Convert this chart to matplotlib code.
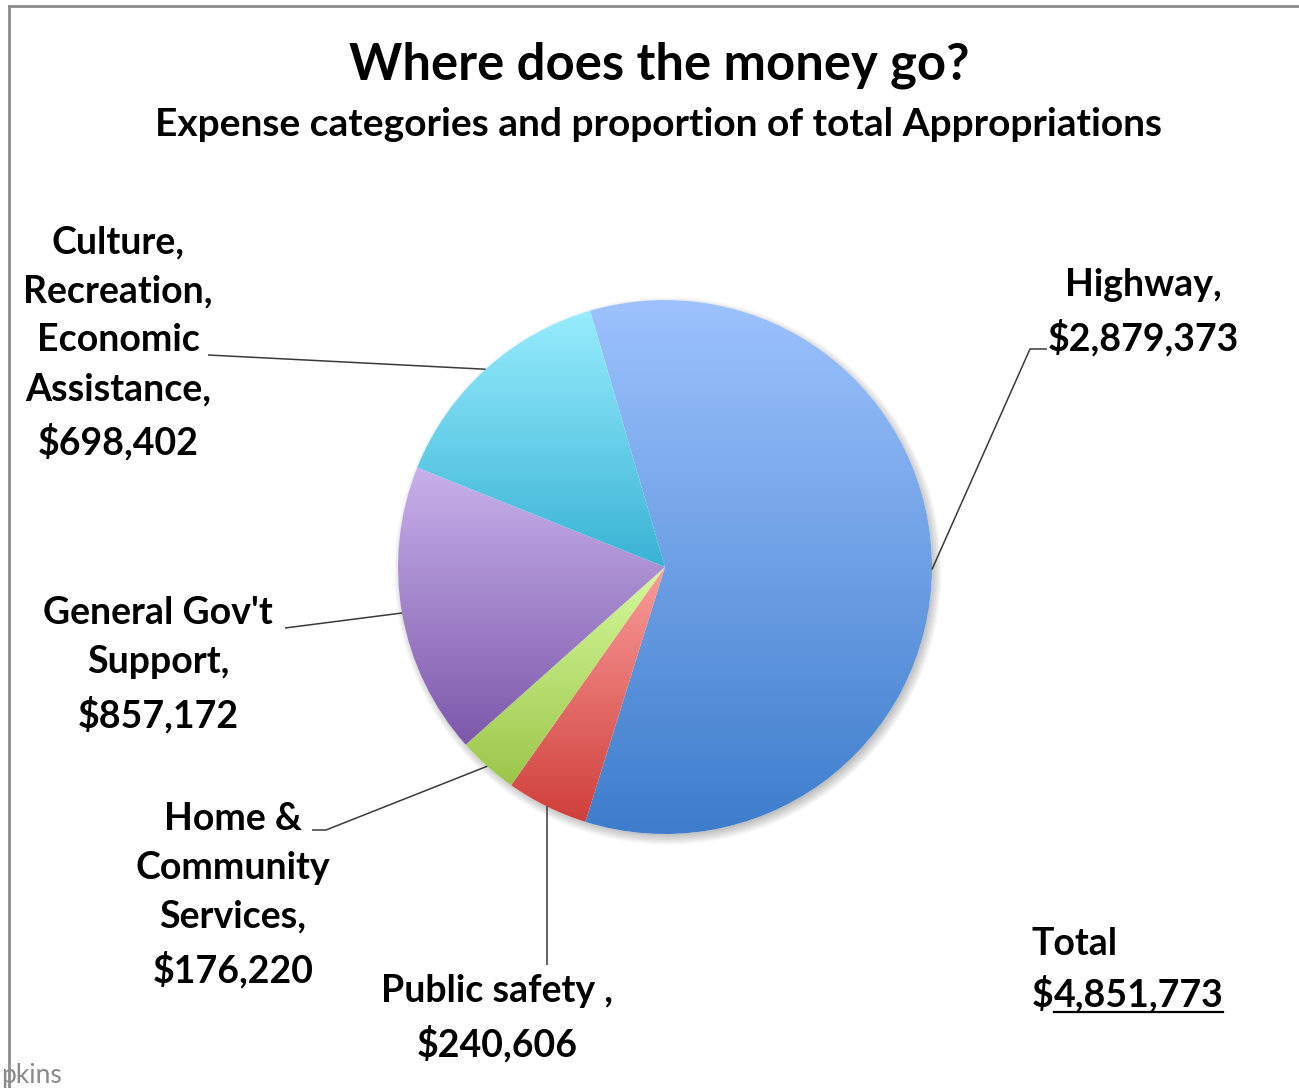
import numpy as np
import matplotlib as mpl
import matplotlib.pyplot as plt
from matplotlib.colors import LinearSegmentedColormap
from matplotlib.patches import Circle

# Appropriations by expense category (dollars), clockwise from the top
categories = ['Highway', 'Public safety', 'Home & Community Services',
              'General Gov\'t Support', 'Culture, Recreation, Economic Assistance']
amounts = [2879373, 240606, 176220, 857172, 698402]
labels = ['Highway,\n$2,879,373',
          'Public safety ,\n$240,606',
          'Home &\nCommunity\nServices,\n$176,220',
          'General Gov\'t\nSupport,\n$857,172',
          'Culture,\nRecreation,\nEconomic\nAssistance,\n$698,402']
total = sum(amounts)

# slice gradients: top colour -> bottom colour
grad_top = ['#9DC2FD', '#FA9D9A', '#D6FA9C', '#C8B1EB', '#98EDFD']
grad_bot = ['#3D7DCC', '#CF3F3B', '#9BC64A', '#7C58AA', '#39B3D5']

W, H = 1299, 1088
mpl.rcParams['font.family'] = ['Lato', 'DejaVu Sans']
mpl.rcParams['font.weight'] = 'bold'

fig = plt.figure(figsize=(W / 100, H / 100), dpi=100, facecolor='white')
ax = fig.add_axes([0, 0, 1, 1])


def Y(y):
    # screen-style y (down) to axis y (up)
    return H - y


cx, cy, R = 665, Y(567), 267

# soft drop shadow under the pie
for k in range(8):
    ax.add_patch(Circle((cx + 3, cy - 4), R + 1.5 * k - 4, facecolor='#000000',
                        edgecolor='none', alpha=0.035, zorder=1))
ax.add_patch(Circle((cx, cy), R, facecolor='white', edgecolor='none', zorder=1.5))

wedges, _ = ax.pie(amounts, center=(cx, cy), radius=R, startangle=106.3,
                   counterclock=False, frame=True,
                   wedgeprops=dict(facecolor='none', edgecolor='none'))

for w, c0, c1 in zip(wedges, grad_top, grad_bot):
    w.set_zorder(3)
    bb = w.get_path().get_extents()
    cmap = LinearSegmentedColormap.from_list('g', [c1, c0])
    grad = np.linspace(0, 1, 256).reshape(-1, 1)
    im = ax.imshow(grad, cmap=cmap, origin='lower', aspect='auto',
                   extent=(bb.x0, bb.x1, bb.y0, bb.y1), zorder=2,
                   interpolation='bilinear')
    im.set_clip_path(w)

ax.set_xlim(0, W)
ax.set_ylim(0, H)
ax.set_aspect('equal')
ax.axis('off')


def edge_point(w):
    mid = np.deg2rad((w.theta1 + w.theta2) / 2)
    return cx + R * np.cos(mid), cy + R * np.sin(mid)


lab_kw = dict(fontsize=27, fontweight='bold', ha='center', va='center',
              multialignment='center', linespacing=1.54, color='black')
lead_kw = dict(color='#3a3a3a', lw=1.1, zorder=4, solid_capstyle='butt')

# Highway
ex, ey = edge_point(wedges[0])
ax.text(1143, Y(312), labels[0], **lab_kw)
ax.plot([1047, 1030, ex], [Y(349), Y(349), ey], **lead_kw)

# Public safety
ex, ey = edge_point(wedges[1])
ax.text(497, Y(1018), labels[1], **lab_kw)
ax.plot([ex, ex], [Y(965), ey], **lead_kw)

# Home & Community Services
ex, ey = edge_point(wedges[2])
ax.text(233, Y(895), labels[2], **lab_kw)
ax.plot([312, 326, ex], [Y(830), Y(830), ey], **lead_kw)

# General Gov't Support
ex, ey = edge_point(wedges[3])
ax.text(158, Y(665), labels[3], **lab_kw)
ax.plot([285, ex], [Y(628), ey], **lead_kw)

# Culture, Recreation, Economic Assistance
ex, ey = edge_point(wedges[4])
ax.text(118, Y(343), labels[4], **lab_kw)
ax.plot([208, ex], [Y(355), ey], **lead_kw)

# titles
ax.text(659, Y(65), 'Where does the money go?', fontsize=36.5, fontweight='bold',
        ha='center', va='center')
ax.text(659, Y(124), 'Expense categories and proportion of total Appropriations',
        fontsize=28, fontweight='bold', ha='center', va='center')

# total, with the amount underlined
ax.text(1032, Y(944), 'Total', fontsize=27, fontweight='bold', ha='left', va='center')
t_dollar = ax.text(1032, Y(995), '$', fontsize=27, fontweight='bold',
                   ha='left', va='center')
renderer = fig.canvas.get_renderer()
bb = t_dollar.get_window_extent(renderer)
t_amt = ax.text(bb.x1, Y(995), f'{total:,}', fontsize=27, fontweight='bold',
                ha='left', va='center')
bb2 = t_amt.get_window_extent(renderer)
ax.plot([bb2.x0, bb2.x1], [Y(1012), Y(1012)], color='black', lw=1.6)

# frame edges and footer fragment
fig.add_artist(plt.Line2D([9 / W, 9 / W], [0, 1 - 6 / H], color='#8c8c8c', lw=2))
fig.add_artist(plt.Line2D([9 / W, 1], [1 - 6 / H, 1 - 6 / H], color='#8c8c8c', lw=2))
ax.text(1, Y(1076), 'pkins', fontsize=19, fontweight='normal', color='#8a8a8a',
        ha='left', va='center')

fig.savefig('out.png', dpi=100, facecolor='white')
